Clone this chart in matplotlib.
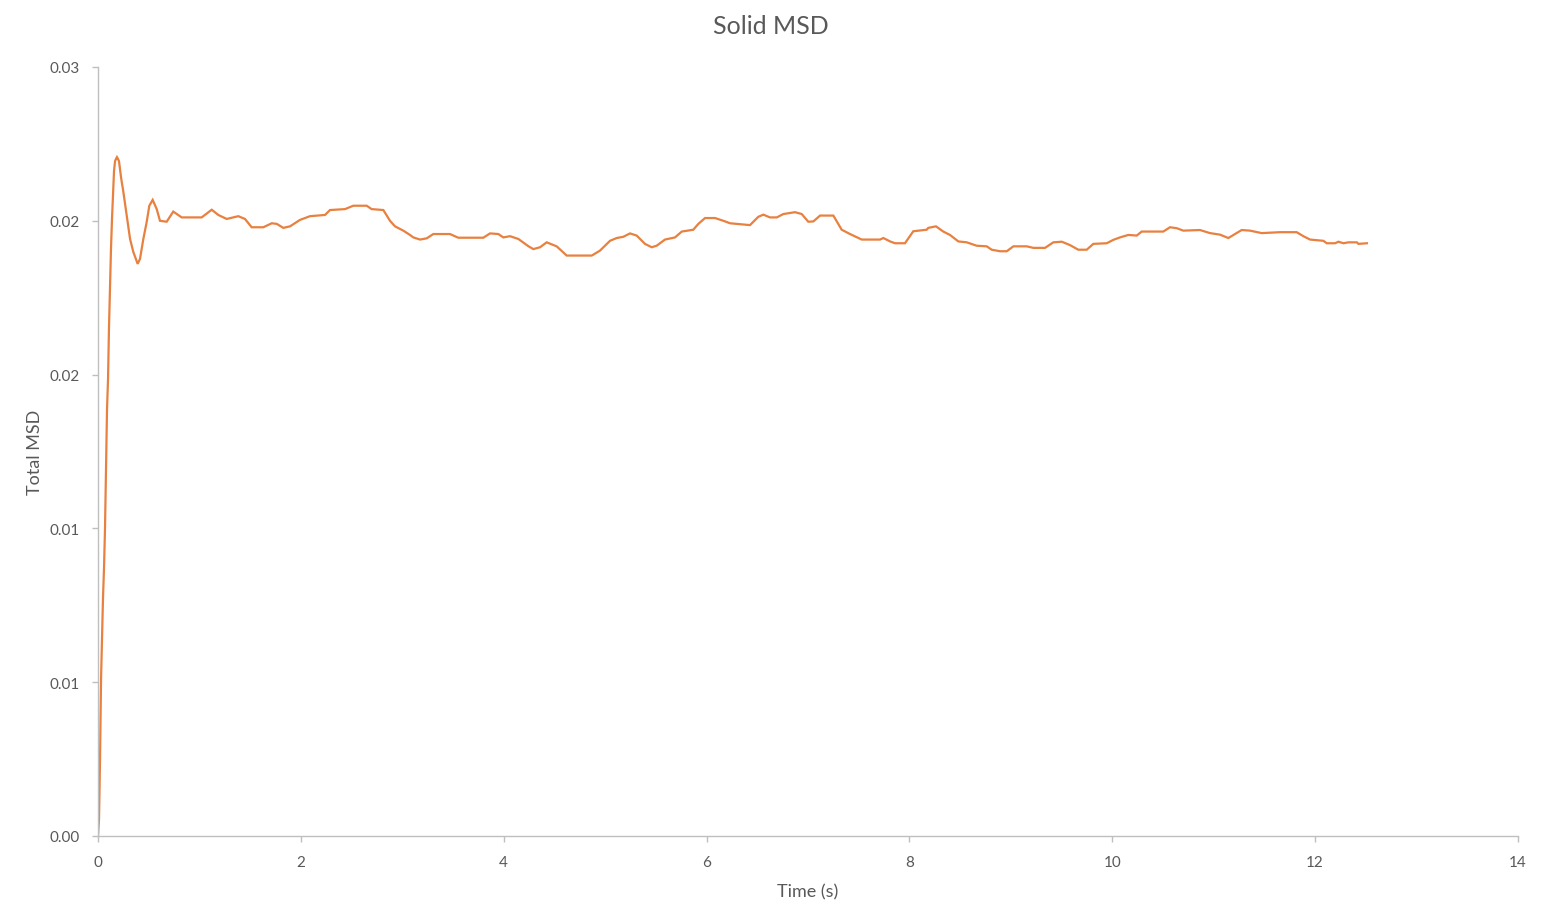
import matplotlib
matplotlib.use("Agg")
import matplotlib.pyplot as plt
from matplotlib.ticker import FixedLocator, FixedFormatter

# ---- data ----
time_s = [0.000, 0.010, 0.020, 0.030, 0.039, 0.049, 0.059, 0.069, 0.079, 0.089,
          0.099, 0.108, 0.118, 0.128, 0.138, 0.148, 0.158, 0.168, 0.177, 0.187,
          0.197, 0.207, 0.217, 0.227, 0.237, 0.246,
          0.283, 0.316, 0.348, 0.391, 0.414, 0.447, 0.480, 0.506, 0.539, 0.579,
          0.611, 0.677, 0.742, 0.825, 1.022, 1.121, 1.186, 1.269, 1.383, 1.449,
          1.515, 1.630, 1.713, 1.762, 1.827, 1.893, 1.992, 2.090, 2.238, 2.287,
          2.435, 2.517, 2.649, 2.698, 2.813, 2.879, 2.928, 3.010, 3.076, 3.109,
          3.175, 3.241, 3.306, 3.470, 3.552, 3.799, 3.865, 3.947, 3.996, 4.062,
          4.144, 4.245, 4.292, 4.358, 4.424, 4.522, 4.621, 4.868, 4.949, 5.048,
          5.114, 5.179, 5.245, 5.311, 5.393, 5.459, 5.508, 5.590, 5.689, 5.755,
          5.869, 5.919, 5.985, 6.083, 6.166, 6.231, 6.428, 6.510, 6.560, 6.625,
          6.692, 6.757, 6.872, 6.938, 7.003, 7.053, 7.119, 7.250, 7.332, 7.414,
          7.530, 7.710, 7.743, 7.809, 7.858, 7.956, 8.038, 8.170, 8.186, 8.262,
          8.334, 8.400, 8.482, 8.565, 8.663, 8.762, 8.811, 8.893, 8.959, 9.025,
          9.156, 9.222, 9.337, 9.419, 9.502, 9.583, 9.665, 9.748, 9.813, 9.945,
          10.010, 10.076, 10.158, 10.241, 10.290, 10.503, 10.569, 10.635, 10.700,
          10.865, 10.963, 11.062, 11.144, 11.210, 11.276, 11.358, 11.473, 11.654,
          11.818, 11.884, 11.950, 12.081, 12.115, 12.197, 12.229, 12.279, 12.328,
          12.411, 12.427, 12.510]

total_msd = [0.00000, 0.00055, 0.00250, 0.00510, 0.00640, 0.00770, 0.00868, 0.00998,
             0.01193, 0.01388, 0.01486, 0.01648, 0.01778, 0.01908, 0.02006, 0.02087,
             0.02162, 0.02194, 0.02201, 0.02207, 0.02201, 0.02194, 0.02168, 0.02142,
             0.02120, 0.02103,
             0.02017, 0.01941, 0.01899, 0.01860, 0.01876, 0.01941, 0.01996, 0.02049,
             0.02068, 0.02038, 0.02000, 0.01997, 0.02030, 0.02011, 0.02011, 0.02036,
             0.02019, 0.02006, 0.02015, 0.02006, 0.01979, 0.01979, 0.01992, 0.01990,
             0.01977, 0.01982, 0.02003, 0.02015, 0.02019, 0.02035, 0.02038, 0.02049,
             0.02049, 0.02038, 0.02035, 0.02000, 0.01982, 0.01968, 0.01954, 0.01946,
             0.01939, 0.01943, 0.01957, 0.01957, 0.01945, 0.01945, 0.01959, 0.01957,
             0.01946, 0.01950, 0.01941, 0.01917, 0.01908, 0.01914, 0.01930, 0.01917,
             0.01887, 0.01887, 0.01903, 0.01935, 0.01944, 0.01948, 0.01959, 0.01952,
             0.01925, 0.01914, 0.01919, 0.01939, 0.01946, 0.01965, 0.01971, 0.01990,
             0.02009, 0.02009, 0.02000, 0.01992, 0.01986, 0.02013, 0.02020, 0.02011,
             0.02011, 0.02022, 0.02028, 0.02022, 0.01997, 0.01998, 0.02017, 0.02017,
             0.01971, 0.01957, 0.01939, 0.01939, 0.01944, 0.01933, 0.01927, 0.01927,
             0.01966, 0.01971, 0.01977, 0.01982, 0.01965, 0.01954, 0.01933, 0.01930,
             0.01919, 0.01917, 0.01906, 0.01901, 0.01901, 0.01917, 0.01917, 0.01912,
             0.01912, 0.01930, 0.01932, 0.01921, 0.01906, 0.01906, 0.01925, 0.01927,
             0.01938, 0.01946, 0.01954, 0.01952, 0.01965, 0.01965, 0.01979, 0.01976,
             0.01968, 0.01970, 0.01960, 0.01955, 0.01944, 0.01957, 0.01970, 0.01968,
             0.01960, 0.01963, 0.01963, 0.01950, 0.01939, 0.01935, 0.01927, 0.01927,
             0.01932, 0.01927, 0.01930, 0.01930, 0.01925, 0.01927]

x_ticks = [0, 2, 4, 6, 8, 10, 12, 14]
y_ticks = [0.0, 0.005, 0.010, 0.015, 0.020, 0.025]
y_tick_labels = ["0.00", "0.01", "0.01", "0.02", "0.02", "0.03"]

title = "Solid MSD"
x_label = "Time (s)"
y_label = "Total MSD"

# ---- styling ----
plt.rcParams['font.family'] = ['Lato', 'DejaVu Sans']
text_col = "#595959"
axis_col = "#BFBFBF"
line_col = "#E8803F"

fig = plt.figure(figsize=(15.48, 9.2), dpi=100)
ax = fig.add_axes([98 / 1548, 1 - 837 / 920, (1518 - 98) / 1548, (837 - 68) / 920])

ax.plot(time_s, total_msd, color=line_col, linewidth=1.6, solid_joinstyle='miter')

ax.set_xlim(0, 14)
ax.set_ylim(0, 0.025)
ax.xaxis.set_major_locator(FixedLocator(x_ticks))
ax.set_xticklabels([str(v) for v in x_ticks])
ax.yaxis.set_major_locator(FixedLocator(y_ticks))
ax.yaxis.set_major_formatter(FixedFormatter(y_tick_labels))

for side in ("top", "right"):
    ax.spines[side].set_visible(False)
for side in ("left", "bottom"):
    ax.spines[side].set_color(axis_col)
    ax.spines[side].set_linewidth(1.0)

ax.tick_params(axis='both', which='major', direction='out', length=4.3, width=1.0,
               color=axis_col, labelcolor=text_col, labelsize=11)
ax.tick_params(axis='x', pad=9.5)
ax.tick_params(axis='y', pad=8.5)

ax.set_xlabel(x_label, color=text_col, fontsize=13, labelpad=10)
ax.set_ylabel(y_label, color=text_col, fontsize=13, labelpad=5)
fig.text(771 / 1548, 1 - 27 / 920, title, color=text_col, fontsize=18,
         ha='center', va='center')

fig.savefig("out.png", dpi=100)
